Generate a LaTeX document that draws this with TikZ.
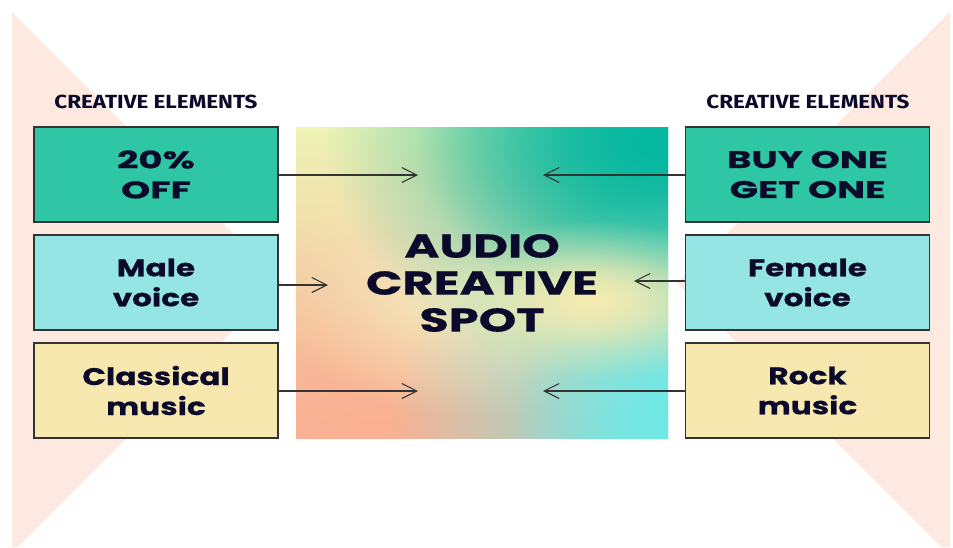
\documentclass[tikz,border=0pt]{standalone}
\usepackage{fontspec}
\usetikzlibrary{arrows.meta,fadings}
\newfontfamily\widefont{Poppins}[FakeStretch=1.3, FakeBold=0.5]
\newfontfamily\widecaps{Poppins}[FakeStretch=1.55, FakeBold=0.5]
\newfontfamily\spotfont{Poppins}[FakeStretch=1.45, FakeBold=0.6]
\newfontfamily\headfont{Fira Sans}[FakeStretch=1.18]
\definecolor{ink}{HTML}{0C0A2B}
\definecolor{peach}{HTML}{FDE9E0}
\definecolor{tealbox}{HTML}{2EC6A4}
\definecolor{cyanbox}{HTML}{95E5E5}
\definecolor{yelbox}{HTML}{F7E8B0}
\definecolor{edge}{HTML}{333333}
\definecolor{gTL}{RGB}{238,243,182}
\definecolor{gML}{RGB}{247,230,172}
\definecolor{gBL}{RGB}{250,180,150}
\definecolor{gTeal}{RGB}{6,184,160}
\definecolor{gCyan}{RGB}{110,234,232}
\definecolor{gYel}{RGB}{247,236,178}
\definecolor{gPale}{RGB}{243,238,194}
\definecolor{gPeach}{RGB}{250,176,146}
\tikzfading[name=glow, inner color=transparent!0, outer color=transparent!100]
\tikzset{
  elem/.style={draw=edge, line width=1.3pt, minimum width=244pt, minimum height=95pt,
    inner sep=0pt, align=center, text=ink, font=\widefont\bfseries\fontsize{24}{30}\selectfont,
    execute at begin node={\rule{0pt}{31pt}}},
  capsel/.style={font=\widecaps\bfseries\fontsize{24}{30}\selectfont},
  head/.style={text=ink, font=\headfont\bfseries\fontsize{19}{22}\selectfont, inner sep=0pt},
  spot/.style={text=ink, align=center, inner sep=0pt, font=\spotfont\bfseries\fontsize{33}{37}\selectfont},
  conn/.style={draw=edge, line width=1.1pt, -{Straight Barb[length=15pt,width=15pt,line width=1.1pt]}},
  blobfill/.style={fill=#1, path fading=glow}
}
\begin{document}
\begin{tikzpicture}[x=1pt,y=-1pt]
\useasboundingbox (0,0) rectangle (953,547);
% background triangles
\fill[peach] (12,12) -- (282,282) -- (18,547) -- (12,547) -- cycle;
\fill[peach] (950,12) -- (677,283) -- (941,547) -- (950,547) -- cycle;
% gradient square
\begin{scope}
\clip (296,127) rectangle (668,438);
\shade[top color=gTL, middle color=gML, bottom color=gBL] (296,127) rectangle (668,438);
\fill[blobfill=gPeach] (380,450) circle (240);
\fill[blobfill=gPale] (470,290) ellipse [x radius=200, y radius=130];
\fill[blobfill=gTeal] (665,130) ellipse [x radius=340, y radius=260];
\fill[blobfill=gTeal] (650,145) ellipse [x radius=230, y radius=170];
\fill[blobfill=gCyan] (690,440) ellipse [x radius=300, y radius=250];
\fill[blobfill=gCyan] (680,420) ellipse [x radius=170, y radius=150];
\fill[blobfill=gYel] (590,300) ellipse [x radius=170, y radius=80];
\fill[blobfill=gYel, opacity=0.6] (590,300) ellipse [x radius=120, y radius=50];
\end{scope}
\node[spot] (spot) at (482,283) {AUDIO\\CREATIVE\\SPOT};
% headers
\node[head] (hl) at (156,102) {CREATIVE ELEMENTS};
\node[head] (hr) at (808,102) {CREATIVE ELEMENTS};
% left boxes
\node[elem, capsel, fill=tealbox] (l1) at (156,174.5) {20\%\\OFF};
\node[elem, fill=cyanbox] (l2) at (156,282.5) {Male\\voice};
\node[elem, fill=yelbox] (l3) at (156,390.5) {Classical\\music};
% right boxes
\node[elem, capsel, fill=tealbox] (r1) at (807.5,174.5) {BUY ONE\\GET ONE};
\node[elem, fill=cyanbox] (r2) at (807.5,282.5) {Female\\voice};
\node[elem, fill=yelbox] (r3) at (807.5,390.5) {Rock\\music};
% arrow ends
\coordinate (a1) at (418,175);
\coordinate (a2) at (328,285);
\coordinate (a3) at (418,391);
\coordinate (b1) at (543,175);
\coordinate (b2) at (634,281);
\coordinate (b3) at (543,391);
\draw[conn] (l1.east |- a1) -- (a1);
\draw[conn] (l2.east |- a2) -- (a2);
\draw[conn] (l3.east |- a3) -- (a3);
\draw[conn] (r1.west |- b1) -- (b1);
\draw[conn] (r2.west |- b2) -- (b2);
\draw[conn] (r3.west |- b3) -- (b3);
\end{tikzpicture}
\end{document}
